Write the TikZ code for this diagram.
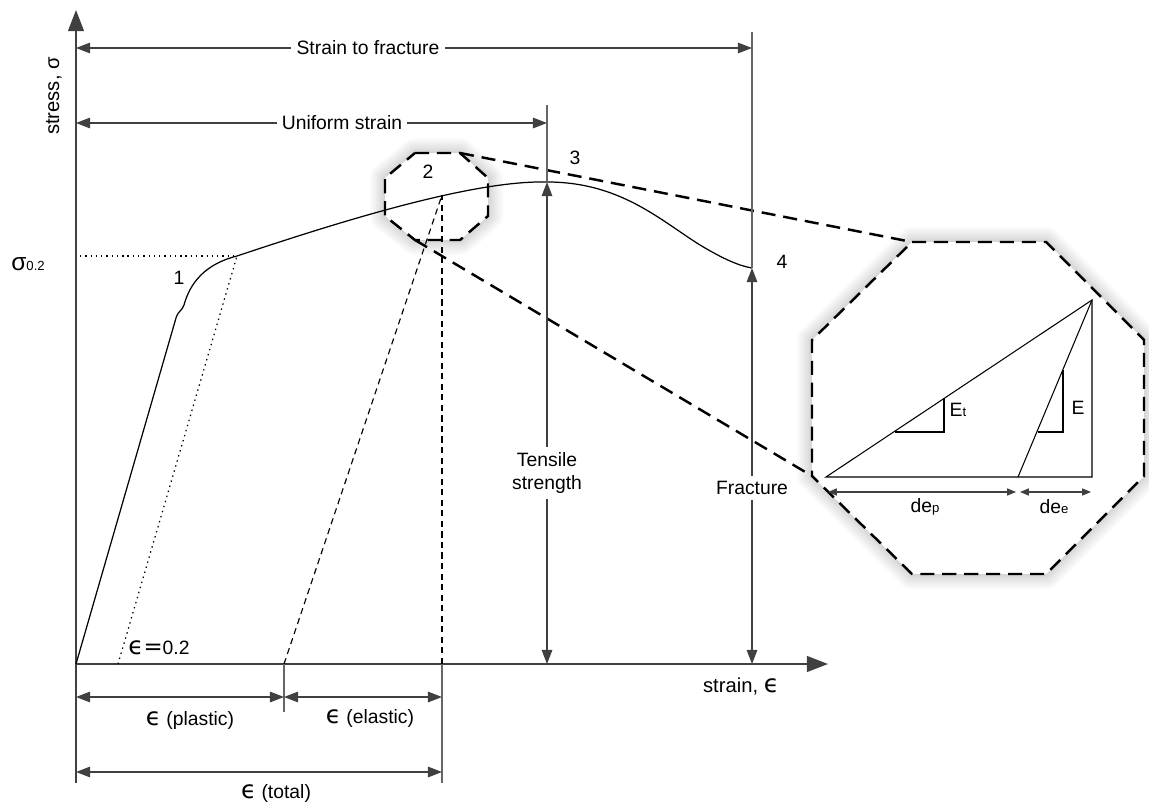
\documentclass[tikz,border=0pt]{standalone}
\usepackage{fontspec}
\setmainfont{Liberation Sans}
\newfontfamily\epsfont{DejaVu Sans}
\usetikzlibrary{arrows.meta,shadows.blur}

\newcommand{\epsch}{{\epsfont\fontsize{14}{14}\selectfont ϵ}}
\newcommand{\lowtxt}[1]{{\fontsize{7.5}{8}\selectfont #1}}

\tikzset{
    axisline/.style={line width=1pt, draw=black!75, -{Triangle[length=12pt,width=9pt]}},
    dimline/.style={line width=0.7pt, draw=black!75, {Triangle[length=8pt,width=6pt]}-{Triangle[length=8pt,width=6pt]}},
    smalldim/.style={line width=0.6pt, draw=black!75, {Triangle[length=5pt,width=4pt]}-{Triangle[length=5pt,width=4pt]}},
    guideline/.style={line width=0.8pt, draw=black!60},
    stresscurve/.style={line width=0.7pt},
    offsetline/.style={line width=0.7pt, dash pattern=on 0.8pt off 2.2pt},
    unload/.style={line width=0.65pt, dash pattern=on 3.5pt off 2.5pt},
    lens/.style={line width=1.4pt, dash pattern=on 8pt off 4.5pt, fill=white,
        blur shadow={shadow xshift=0pt, shadow yshift=0pt, shadow blur radius=9pt, shadow blur steps=16, shadow opacity=35}},
    zoomline/.style={line width=1.4pt, dash pattern=on 8pt off 4.5pt},
    whitelbl/.style={fill=white, inner sep=3pt}
}

\begin{document}
\begin{tikzpicture}[x=0.02cm, y=-0.02cm, every node/.style={font=\fontsize{11}{13}\selectfont}]
\useasboundingbox (0,0) rectangle (1149,808);

% key points of the curve
\coordinate (O) at (76,664);
\coordinate (P1) at (237,256);
\coordinate (P2) at (442,195);
\coordinate (P3) at (547,182);
\coordinate (P4) at (752,268);
\coordinate (U) at (284,664);
\coordinate (T) at (442,664);

% zoom octagons
\draw[lens] (415,153) -- (460,153) coordinate (s2) -- (488,178) -- (488,216) -- (460,240)
    -- (415,240) coordinate (s6) -- (385,216) -- (385,178) -- cycle;
\draw[lens] (912,242) coordinate (b1) -- (1046,242) -- (1144,340) -- (1144,476) -- (1046,574)
    -- (912,574) -- (812,476) coordinate (b7) -- (812,340) -- cycle;
\draw[zoomline] (s2) -- (b1);
\draw[zoomline] (s6) -- (b7);

% axes
\draw[axisline] (76,783) -- (76,10);
\draw[axisline] (O) -- (828,664);
\node[rotate=90, font=\fontsize{11.5}{13}\selectfont] (ylbl) at (54,96) {stress, σ};
\node[font=\fontsize{11.5}{13}\selectfont] (xlbl) at (741,686) {strain, \epsch};

% stress-strain curve
\draw[stresscurve] (O) -- (176,318) .. controls (178,311) and (182,311) .. (184,305)
    .. controls (190,283) and (205,264) .. (P1)
    .. controls (330,225) and (470,180) .. (P3)
    .. controls (620,182) and (660,220) .. (700,245)
    .. controls (725,260) and (740,266) .. (P4);

% offset and unloading
\coordinate (e02) at (118,664);
\coordinate (s02) at (80,256);
\draw[offsetline] (s02) -- (P1);
\draw[offsetline] (e02) -- (P1);
\draw[unload] (U) -- (P2);
\draw[unload] (T) -- (P2);

% extension lines
\draw[guideline] (T) -- (442,783);
\draw[guideline] (U) -- (284,712);
\draw[guideline] (547,105) -- (P3);
\draw[guideline] (752,32) -- (P4);

% dimensions
\draw[dimline] (P3) -- (547,664);
\draw[dimline] (P4) -- (752,664);
\draw[dimline] (76,48) -- (752,48);
\draw[dimline] (76,123) -- (547,123);
\draw[dimline] (76,697) -- (U |- 0,697);
\draw[dimline] (U |- 0,697) -- (T |- 0,697);
\draw[dimline] (76,772) -- (T |- 0,772);

\node[whitelbl] (fracdim) at (368,48) {Strain to fracture};
\node[whitelbl] (unidim) at (342,123) {Uniform strain};
\node[whitelbl, align=center] (tensile) at (547,473) {Tensile\\strength};
\node[whitelbl] (fracture) at (752,488) {Fracture};

\node (plastic) at (190,720) {\epsch{} (plastic)};
\node (elastic) at (370,718) {\epsch{} (elastic)};
\node (total) at (276,793) {\epsch{} (total)};
\node (e02lbl) at (159,648) {\epsch{\epsfont\fontsize{13}{13}\selectfont =}0.2};
\node (s02lbl) at (28,264) {{\fontsize{14}{14}\selectfont σ}\lowtxt{0.2}};

\node (n1) at (179,278) {1};
\node (n2) at (428,172) {2};
\node (n3) at (575,158) {3};
\node (n4) at (782,262) {4};

% zoomed detail
\coordinate (A) at (826,477);
\coordinate (B) at (1092,300);
\coordinate (C) at (1092,477);
\coordinate (D) at (1018,477);
\draw[line width=0.6pt] (A) -- (B) -- (C) -- cycle;
\draw[line width=0.6pt] (D) -- (B);
\draw[line width=0.6pt] (895,432) -- (944,432) -- (944,398);
\draw[line width=0.6pt] (1038,432) -- (1063,432) -- (1063,370);
\node (Et) at (958,410) {E\lowtxt{t}};
\node (E) at (1078,408) {E};
\draw[smalldim] (828,492) -- (1016,492);
\draw[smalldim] (1020,492) -- (1091,492);
\node (dep) at (925,507) {de\lowtxt{p}};
\node (dee) at (1054,507) {de\lowtxt{e}};
\end{tikzpicture}
\end{document}
